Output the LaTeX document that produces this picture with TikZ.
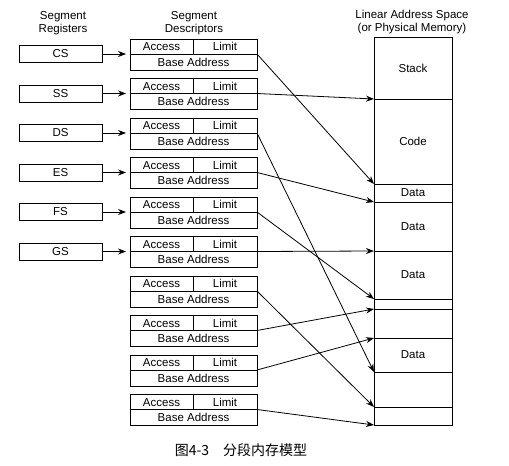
\documentclass[tikz,border=0pt]{standalone}
\usepackage{fontspec}
\setmainfont{Liberation Sans}
\newfontfamily\cjk{Noto Sans CJK SC}
\usepackage{tikz}
\usetikzlibrary{
    arrows.meta,
    positioning
}
\tikzstyle{reg} = [
    draw,
    minimum width=83pt,
    minimum height=17pt,
    inner sep=0pt
]
\tikzstyle{field} = [
    draw,
    minimum height=15pt,
    text height=8.5pt,
    text depth=0.5pt,
    inner sep=0pt,
    outer sep=0pt
]
\tikzstyle{memcell} = [
    draw,
    minimum width=78pt,
    inner sep=0pt,
    outer sep=0pt
]
\tikzstyle{arrow} = [
    -{Stealth[length=8pt,width=6pt]},
    line width=0.8pt
]
\begin{document}
\begin{tikzpicture}[x=1pt, y=-1pt, line width=0.8pt, font=\fontsize{11.5}{13.5}\selectfont]
        \useasboundingbox (0,0) rectangle (509,466);

        % Headings
        \node[align=center] (hreg) at (63,23) {Segment\\Registers};
        \node[align=center] (hdesc) at (194,23) {Segment\\Descriptors};
        \node[align=center] (hmem) at (412,22) {Linear Address Space\\(or Physical Memory)};

        % Segment descriptors
        \foreach \i in {0,...,9} {
            \node[field, minimum width=127pt, minimum height=16pt] (base\i) at (193.5,{62+39.5*\i}) {Base Address};
            \node[field, minimum width=63pt, above right=0pt and 0pt of base\i.north west, anchor=south west] (acc\i) {Access};
            \node[field, minimum width=64pt, above left=0pt and 0pt of base\i.north east, anchor=south east] (lim\i) {Limit};
        }

        % Segment registers
        \foreach \r [count=\i from 0] in {CS,SS,DS,ES,FS,GS} {
            \node[reg] (\r) at (60.5,{54+39.5*\i}) {\r};
            \draw[arrow, shorten >=4pt] (\r) -- (base\i.north west);
        }

        % Linear address space
        \foreach \top/\bot/\lab [count=\j] in {37/99/Stack, 99/184/Code, 184/202/Data, 202/251/Data,
                251/299/Data, 299/309/, 309/338/, 338/372/Data, 372/407/, 407/425/} {
            \node[memcell, minimum height={\bot-\top}] (m\j) at (413,{(\top+\bot)/2}) {\lab};
        }

        % Descriptors point into memory
        \foreach \i/\dest in {0/m3.north west, 1/m2.north west, 2/m9.north west, 3/m4.north west,
                4/m6.north west, 5/m5.north west, 6/m10.north west, 7/m7.north west,
                8/m8.north west, 9/m10.south west} {
            \draw[arrow] (base\i.north east) -- (\dest);
        }

        % Caption
        \node (caption) at (241,450) {\fontsize{14}{16}\selectfont\cjk 图4-3\quad 分段内存模型};
    \end{tikzpicture}
\end{document}
